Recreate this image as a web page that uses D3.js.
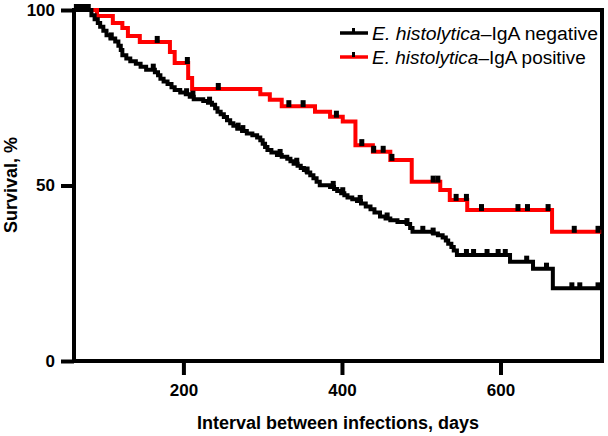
<!DOCTYPE html>
<html><head><meta charset="utf-8">
<script src="https://cdn.jsdelivr.net/npm/d3@7"></script>
<style>body{margin:0;background:#fff}svg{display:block}text{font-family:"Liberation Sans",Arial,sans-serif}</style>
</head><body><div id="chart"></div>
<script>
// Series: IgA negative (black)
const negTimes = [84,88,92,95,99,103,108,114,118,121,123,128,133,140,146,153,164,168,171,175,180,185,189,196,203,208,213,225,231,236,240,243,247,251,255,259,263,268,274,280,287,293,297,300,303,306,311,318,324,331,335,339,344,348,352,356,360,364,368,372,385,390,394,399,403,407,413,419,424,430,436,441,448,455,461,470,482,486,489,515,521,527,531,534,538,541,545,612,641,666];
const negSurv  = [98.5,97.4,96.3,95.2,94.1,92.8,91.9,91.0,89.8,88.6,87.1,86.2,85.4,84.7,83.8,83.0,82.3,81.4,80.4,79.6,78.9,78.0,77.2,76.5,76.0,75.3,74.6,74.1,73.6,73.0,72.0,71.0,70.3,69.5,68.6,67.7,67.0,66.2,65.5,64.8,64.3,63.7,62.9,61.9,61.0,60.1,59.4,58.7,58.2,57.6,56.9,56.2,55.6,55.0,54.4,53.7,52.9,52.1,51.1,50.1,49.6,49.0,48.4,47.8,47.2,46.6,46.1,45.6,44.9,44.0,43.2,42.3,41.2,40.6,40.1,39.6,39.0,37.9,36.8,36.3,35.8,35.2,34.3,33.4,32.5,31.5,30.2,28.3,26.3,20.7];
const negCensor = [65,70,75,80,109,162,204,212,233,269,275,322,343,356,389,401,423,457,482,502,515,557,566,583,597,606,633,658,690,700,723];
// Series: IgA positive (red)
const posTimes = [91,111,123,130,145,183,189,206,211,297,309,324,366,385,401,417,439,461,488,524,536,558,665];
const posSurv  = [98.3,96.3,94.9,92.6,90.9,88.0,84.9,80.6,77.5,76.0,74.4,72.6,71.0,69.6,68.2,61.5,59.6,57.3,51.1,48.7,45.9,43.0,36.8];
const posCensor = [167,205,244,333,351,393,425,440,452,463,515,521,544,557,576,622,634,660,693,723];
const endTime = 727;
const xTicks = [200,400,600];
const yTicks = [0,50,100];
const legendLabels = ["\u2013IgA negative","\u2013IgA positive"];
const speciesLabel = "E. histolytica";
const colors = ["#000000","#ff0000"];

const W = 608, H = 436;
const svg = d3.select("#chart").append("svg").attr("width", W).attr("height", H);
const x = d3.scaleLinear().domain([62, 728]).range([74, 602]);
const y = d3.scaleLinear().domain([0, 100]).range([361, 10]);

function stepPts(times, surv){
  const pts = [[62,100]];
  times.forEach((t,i)=>pts.push([t, surv[i]]));
  pts.push([endTime, surv[surv.length-1]]);
  return pts;
}
function survAt(times, surv, t){
  let s = 100;
  for (let i=0;i<times.length;i++){ if (times[i] <= t) s = surv[i]; }
  return s;
}
const line = d3.line().x(d=>x(d[0])).y(d=>y(d[1])).curve(d3.curveStepAfter);

// frame
svg.append("rect").attr("x", 74).attr("y", 10).attr("width", 528).attr("height", 351)
  .attr("fill","none").attr("stroke","#000").attr("stroke-width",4);

// axes
const xAxis = d3.axisBottom(x).tickValues(xTicks).tickSize(13).tickPadding(9).tickFormat(d3.format("d"));
const gx = svg.append("g").attr("transform","translate(0,362)").call(xAxis);
gx.select(".domain").remove();
gx.selectAll(".tick line").attr("stroke","#000").attr("stroke-width",4);
gx.selectAll(".tick text").attr("font-size",17).attr("font-weight","bold").attr("fill","#000");

const yAxis = d3.axisLeft(y).tickValues(yTicks).tickSize(13).tickPadding(6);
const gy = svg.append("g").attr("transform","translate(74,0)").call(yAxis);
gy.select(".domain").remove();
gy.selectAll(".tick line").attr("stroke","#000").attr("stroke-width",4);
gy.selectAll(".tick text").attr("font-size",17).attr("font-weight","bold").attr("fill","#000");

// titles
svg.append("text").attr("x", 338).attr("y", 429).attr("text-anchor","middle")
  .attr("font-size",18).attr("font-weight","bold").text("Interval between infections, days");
svg.append("text").attr("transform","translate(17,185) rotate(-90)").attr("text-anchor","middle")
  .attr("font-size",18).attr("font-weight","bold").text("Survival, %");

// curves
const series = [
  {t:posTimes, s:posSurv, c:posCensor, color:colors[1]},
  {t:negTimes, s:negSurv, c:negCensor, color:colors[0]}
];
series.forEach(sr=>{
  svg.append("path").attr("d", line(stepPts(sr.t, sr.s)))
    .attr("fill","none").attr("stroke", sr.color).attr("stroke-width",4).attr("stroke-linejoin","miter");
});
series.forEach(sr=>{
  svg.append("g").selectAll("rect").data(sr.c).join("rect")
    .attr("x", d=>x(d)-2.5).attr("y", d=>y(survAt(sr.t, sr.s, d))-6)
    .attr("width",5).attr("height",7).attr("fill","#000");
});

// legend
const legY = [33, 57];
const legWidth = [226, 214];
[0,1].forEach(i=>{
  const g = svg.append("g");
  g.append("line").attr("x1",340).attr("x2",368).attr("y1",legY[i]).attr("y2",legY[i])
    .attr("stroke",colors[i]).attr("stroke-width",3.5);
  g.append("rect").attr("x",352).attr("y",legY[i]-5).attr("width",3).attr("height",5).attr("fill","#000");
  const t = g.append("text").attr("x",0).attr("y",0).attr("font-size",19).attr("fill","#000");
  t.append("tspan").attr("font-style","italic").text(speciesLabel);
  t.append("tspan").text(legendLabels[i]);
  const w = t.node().getBBox().width;
  t.attr("transform",`translate(372,${legY[i]+7}) scale(${legWidth[i]/w},1)`);
});
</script></body></html>
